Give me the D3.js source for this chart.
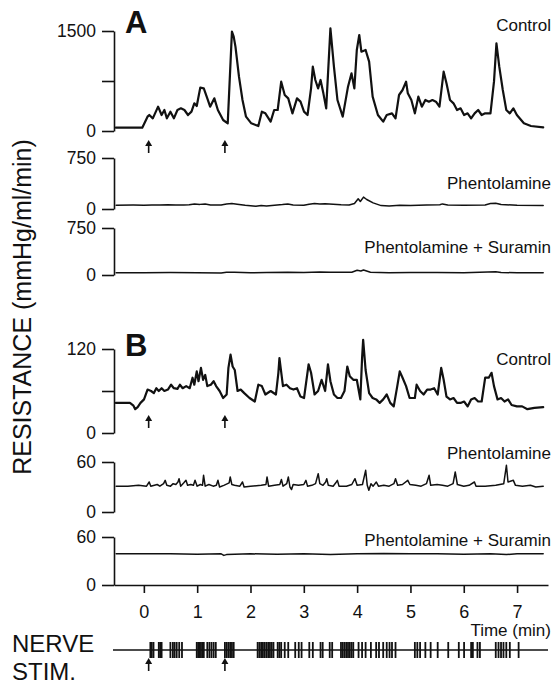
<!DOCTYPE html>
<html><head><meta charset="utf-8">
<script src="https://cdn.jsdelivr.net/npm/d3@7"></script>
<style>
html,body{margin:0;padding:0;background:#fff;}
svg{display:block;font-family:"Liberation Sans",Arial,Helvetica,sans-serif;}
</style></head>
<body><svg id="c" width="552" height="685"></svg>
<script>
// ---- data (time in min, resistance in mmHg/ml/min) ----
const timeTicks = [0,1,2,3,4,5,6,7];
const arrowTimes = [0.09, 1.52];

const aControl = [[-0.525,50],[-0.030,50],[0.069,215],[0.102,240],[0.168,190],[0.267,365],[0.333,240],[0.385,315],[0.432,190],[0.498,290],[0.563,190],[0.630,315],[0.695,340],[0.761,315],[0.828,240],[0.893,290],[0.946,415],[0.992,375],[1.058,650],[1.124,640],[1.190,490],[1.243,365],[1.322,490],[1.388,315],[1.487,165],[1.573,115],[1.652,1490],[1.685,1415],[1.718,1265],[1.784,815],[1.850,465],[1.916,215],[2.015,115],[2.147,75],[2.213,290],[2.279,265],[2.378,140],[2.444,315],[2.510,315],[2.576,740],[2.642,540],[2.708,490],[2.787,265],[2.872,490],[2.938,440],[3.004,290],[3.070,240],[3.136,640],[3.169,965],[3.216,765],[3.268,640],[3.314,765],[3.367,565],[3.420,340],[3.499,1540],[3.565,965],[3.631,465],[3.730,215],[3.829,665],[3.895,865],[3.948,640],[3.994,1215],[4.040,1440],[4.080,1190],[4.159,1215],[4.225,1040],[4.291,515],[4.390,240],[4.489,140],[4.555,240],[4.654,265],[4.720,190],[4.786,540],[4.852,615],[4.918,740],[4.951,565],[5.017,465],[5.083,265],[5.148,515],[5.214,365],[5.280,465],[5.346,440],[5.412,465],[5.478,440],[5.544,365],[5.623,890],[5.676,715],[5.742,465],[5.808,415],[5.874,315],[5.940,340],[6.006,240],[6.072,265],[6.138,190],[6.204,265],[6.270,315],[6.336,240],[6.402,265],[6.501,265],[6.567,740],[6.613,1315],[6.666,965],[6.732,615],[6.798,315],[6.864,265],[6.930,340],[6.996,240],[7.128,115],[7.260,75],[7.490,55]];

const aPhent = [[-0.52,55],[-0.2,57],[0.0,55],[0.15,60],[0.3,58],[0.45,62],[0.6,58],[0.75,60],[0.85,62],[0.95,72],[1.05,68],[1.15,75],[1.25,60],[1.45,58],[1.55,75],[1.65,80],[1.75,70],[1.9,55],[2.1,40],[2.2,50],[2.3,45],[2.45,55],[2.6,65],[2.7,75],[2.8,60],[3.0,55],[3.1,70],[3.2,80],[3.3,72],[3.4,78],[3.55,70],[3.7,62],[3.85,60],[3.95,80],[4.02,150],[4.06,110],[4.12,175],[4.18,140],[4.3,90],[4.45,50],[4.6,45],[4.8,55],[5.0,50],[5.3,58],[5.55,62],[5.6,75],[5.7,60],[6.0,55],[6.4,60],[6.5,80],[6.6,85],[6.7,65],[7.0,55],[7.49,50]];

const aPhentSur = [[-0.52,35],[0.0,36],[0.5,38],[1.0,37],[1.45,33],[1.55,45],[1.7,42],[2.0,35],[2.3,40],[2.7,45],[3.0,40],[3.3,48],[3.5,42],[3.9,45],[4.0,75],[4.07,65],[4.12,80],[4.25,45],[4.6,35],[5.0,38],[5.5,40],[6.0,37],[6.6,50],[6.7,40],[7.0,36],[7.49,35]];

const bControl = [[-0.525,43],[-0.261,43],[-0.195,39],[-0.162,34],[-0.116,37],[-0.063,43],[0.003,48],[0.069,62],[0.135,60],[0.188,57],[0.234,64],[0.280,60],[0.333,64],[0.385,60],[0.451,62],[0.511,69],[0.563,64],[0.630,63],[0.676,69],[0.728,64],[0.794,67],[0.860,64],[0.913,79],[0.946,69],[0.992,88],[1.025,74],[1.071,93],[1.111,76],[1.151,83],[1.190,67],[1.256,69],[1.309,74],[1.355,67],[1.421,60],[1.487,50],[1.553,55],[1.586,93],[1.626,112],[1.665,95],[1.705,90],[1.758,60],[1.817,62],[1.883,57],[1.982,50],[2.081,45],[2.147,69],[2.213,67],[2.279,55],[2.378,60],[2.477,55],[2.523,86],[2.543,107],[2.609,67],[2.675,69],[2.741,64],[2.806,62],[2.872,64],[2.938,52],[3.004,50],[3.090,98],[3.136,86],[3.202,55],[3.268,60],[3.334,76],[3.400,60],[3.453,98],[3.499,74],[3.565,55],[3.631,50],[3.697,50],[3.763,60],[3.816,95],[3.862,81],[3.928,76],[3.994,76],[4.060,48],[4.093,107],[4.113,133],[4.159,90],[4.225,57],[4.291,50],[4.357,48],[4.423,43],[4.489,48],[4.555,55],[4.621,43],[4.687,38],[4.753,67],[4.799,88],[4.852,79],[4.918,67],[4.984,50],[5.083,50],[5.116,69],[5.181,60],[5.247,55],[5.313,62],[5.379,62],[5.445,64],[5.511,55],[5.577,93],[5.623,76],[5.676,52],[5.742,48],[5.808,50],[5.874,43],[5.940,43],[6.006,45],[6.072,38],[6.138,48],[6.204,50],[6.270,45],[6.336,45],[6.402,79],[6.468,79],[6.521,86],[6.567,67],[6.633,48],[6.699,50],[6.765,45],[6.831,48],[6.897,40],[6.996,38],[7.095,38],[7.194,34],[7.325,36],[7.490,37]];

const bPhent = [[-0.52,31],[-0.3,31],[-0.1,32],[0.05,31],[0.1,36],[0.13,31],[0.25,33],[0.3,31],[0.37,34],[0.4,38],[0.43,32],[0.5,31],[0.55,34],[0.6,33],[0.64,36],[0.66,40],[0.69,31],[0.75,35],[0.79,38],[0.82,32],[0.88,33],[0.93,32],[0.96,38],[1.0,31],[1.06,33],[1.1,32],[1.12,44],[1.15,31],[1.22,33],[1.3,31],[1.36,32],[1.39,38],[1.42,30],[1.5,32],[1.6,35],[1.62,42],[1.65,33],[1.7,32],[1.8,31],[1.85,36],[1.88,30],[2.0,31],[2.2,32],[2.29,33],[2.31,42],[2.34,31],[2.45,32],[2.55,33],[2.58,39],[2.61,31],[2.68,34],[2.71,42],[2.74,30],[2.77,27],[2.8,33],[2.9,32],[3.0,33],[3.04,38],[3.07,31],[3.15,32],[3.22,34],[3.27,46],[3.3,34],[3.36,32],[3.41,36],[3.43,40],[3.46,32],[3.55,31],[3.6,35],[3.63,38],[3.66,31],[3.8,31],[3.9,33],[3.96,40],[4.0,32],[4.1,33],[4.16,50],[4.19,32],[4.22,26],[4.26,34],[4.3,31],[4.36,36],[4.4,31],[4.5,32],[4.6,31],[4.69,34],[4.72,40],[4.76,32],[4.85,33],[4.95,38],[4.99,33],[5.1,32],[5.2,31],[5.3,34],[5.35,44],[5.38,32],[5.5,33],[5.6,32],[5.7,31],[5.8,34],[5.84,48],[5.88,33],[6.0,31],[6.1,32],[6.2,36],[6.23,31],[6.4,31],[6.6,32],[6.75,34],[6.8,56],[6.83,36],[6.93,38],[6.97,32],[7.1,31],[7.25,32],[7.35,30],[7.49,31]];

const bPhentSur = [[-0.52,39],[0.5,39],[1.0,38.5],[1.45,39],[1.5,37],[1.55,38],[2.0,39],[2.5,38.5],[3.0,39],[3.5,38],[4.0,39],[4.5,39.5],[5.0,39],[5.5,39],[6.0,38.5],[6.5,39],[6.8,38],[7.0,39],[7.49,39]];

const stimTimes = [0.122,0.148,0.181,0.280,0.306,0.333,0.498,0.544,0.577,0.616,0.663,0.715,0.992,1.019,1.045,1.071,1.098,1.124,1.190,1.230,1.269,1.309,1.349,1.520,1.553,1.586,1.619,1.652,1.685,2.134,2.167,2.200,2.233,2.266,2.299,2.332,2.365,2.398,2.431,2.510,2.543,2.576,2.642,2.708,2.839,2.905,2.958,3.103,3.169,3.314,3.354,3.486,3.532,3.697,3.730,3.763,3.796,3.829,3.862,3.895,3.928,4.027,4.093,4.159,4.258,4.357,4.410,4.489,4.555,4.608,4.654,4.720,5.083,5.129,5.181,5.280,5.379,5.511,5.709,5.907,6.006,6.138,6.171,6.257,6.303,6.600,6.652,6.699,6.745,6.798,6.864,7.029];

const panelNames = ["Control","Phentolamine","Phentolamine + Suramin","Control","Phentolamine","Phentolamine + Suramin"];
const panelMax = [1500,750,750,120,60,60];

// ---- layout ----
const svg = d3.select("#c");
const FONT = '"Liberation Sans",Arial,Helvetica,sans-serif';
const axisX = 114;
const x = d3.scaleLinear().domain([-0.56, 7.58]).range([axisX, 548]);

const layout = [
  {series:aControl,  top:31,  bottom:131, mid:true,  lw:2.2, nameY:31},
  {series:aPhent,    top:158, bottom:209, mid:false, lw:1.5, nameY:189},
  {series:aPhentSur, top:228, bottom:275, mid:false, lw:1.5, nameY:253},
  {series:bControl,  top:349, bottom:433, mid:true,  lw:2.2, nameY:365},
  {series:bPhent,    top:462, bottom:512, mid:false, lw:1.5, nameY:459},
  {series:bPhentSur, top:537, bottom:585, mid:false, lw:1.5, nameY:546}
];

layout.forEach((p,i)=>{
  const max = panelMax[i];
  const y = d3.scaleLinear().domain([0,max]).range([p.bottom,p.top]);
  const tv = p.mid ? [0,max/2,max] : [0,max];
  const ax = d3.axisLeft(y).tickValues(tv).tickSize(12).tickSizeOuter(0).tickPadding(6)
      .tickFormat(d => (d===0||d===max) ? d3.format("d")(d) : "");
  const g = svg.append("g").attr("transform",`translate(${axisX},0)`).call(ax);
  g.select(".domain").attr("stroke","#111").attr("stroke-width",1.6);
  g.selectAll(".tick line").attr("stroke","#111").attr("stroke-width",1.6);
  g.selectAll(".tick text").attr("fill","#111").style("font-size","17.5px").style("font-family",FONT);

  const line = d3.line().x(d=>x(d[0])).y(d=>y(d[1])).curve(d3.curveLinear);
  svg.append("path").datum(p.series).attr("d",line)
     .attr("fill","none").attr("stroke","#111").attr("stroke-width",p.lw)
     .attr("stroke-linejoin","round").attr("stroke-linecap","round");

  svg.append("text").attr("x",551).attr("y",p.nameY).attr("text-anchor","end")
     .style("font-size","17px").attr("fill","#111").text(panelNames[i]);
});

// x axis
const xa = d3.axisBottom(x).tickValues(timeTicks).tickSize(8).tickSizeOuter(0).tickPadding(12).tickFormat(d3.format("d"));
const gx = svg.append("g").attr("transform","translate(0,585)").call(xa);
gx.select(".domain").attr("stroke","#111").attr("stroke-width",1.6);
gx.selectAll(".tick line").attr("stroke","#111").attr("stroke-width",1.6);
gx.selectAll(".tick text").attr("fill","#111").style("font-size","18px").style("font-family",FONT);
svg.append("text").attr("x",551).attr("y",636).attr("text-anchor","end")
   .style("font-size","17px").attr("fill","#111").text("Time (min)");

// panel letters
svg.append("text").attr("x",125).attr("y",33).style("font-size","31px").style("font-weight","bold").attr("fill","#111").text("A");
svg.append("text").attr("x",125).attr("y",356).style("font-size","31px").style("font-weight","bold").attr("fill","#111").text("B");

// y label
svg.append("text").attr("transform","translate(31,307) rotate(-90)").attr("text-anchor","middle")
   .style("font-size","25px").attr("fill","#111").text("RESISTANCE (mmHg/ml/min)");

// arrows
function arrows(y0,y1){
  arrowTimes.forEach(t=>{
    const cx = x(t);
    svg.append("line").attr("x1",cx).attr("x2",cx).attr("y1",y0+4).attr("y2",y1)
       .attr("stroke","#111").attr("stroke-width",1.6);
    svg.append("path").attr("d",`M${cx},${y0} L${cx-3.5},${y0+6} L${cx+3.5},${y0+6} Z`).attr("fill","#111");
  });
}
arrows(140,153);
arrows(415,428);
arrows(658,671);

// nerve stim
svg.append("line").attr("x1",113).attr("x2",548).attr("y1",650).attr("y2",650).attr("stroke","#111").attr("stroke-width",1.4);
svg.selectAll("line.stim").data(stimTimes).enter().append("line").attr("class","stim")
   .attr("x1",d=>x(d)).attr("x2",d=>x(d)).attr("y1",642).attr("y2",658)
   .attr("stroke","#111").attr("stroke-width",1.8);
svg.append("text").attr("x",12).attr("y",652).style("font-size","24px").attr("fill","#111").text("NERVE");
svg.append("text").attr("x",12).attr("y",680).style("font-size","24px").attr("fill","#111").text("STIM.");
</script></body></html>
